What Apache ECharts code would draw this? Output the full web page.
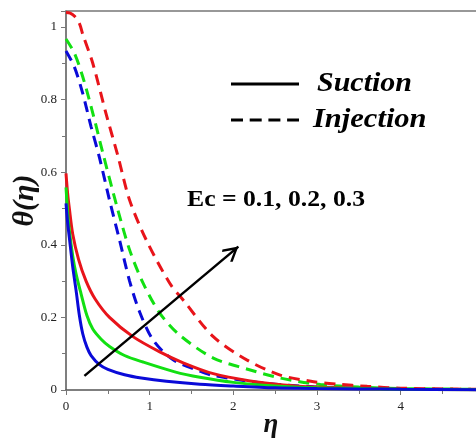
<!DOCTYPE html>
<html>
<head>
<meta charset="utf-8">
<script src="https://cdn.jsdelivr.net/npm/echarts@6/dist/echarts.min.js"></script>
<style>html,body{margin:0;padding:0;background:#fff}#c{width:476px;height:439px}</style>
</head>
<body>
<div id="c"></div>
<script>
// ---- data ----
var xTicks = [0, 1, 2, 3, 4];
var yTicks = [0, 0.2, 0.4, 0.6, 0.8, 1];

// Suction (solid)
var sucBlueX  = [0, 0.02, 0.04, 0.08, 0.12, 0.16, 0.2, 0.25, 0.3, 0.4, 0.5, 0.7, 0.9, 1.2, 1.6, 2, 2.5, 3, 3.5, 4, 4.9];
var sucBlueY  = [0.514, 0.46, 0.42, 0.34, 0.275, 0.205, 0.155, 0.118, 0.095, 0.07, 0.057, 0.042, 0.033, 0.024, 0.016, 0.011, 0.006, 0.004, 0.003, 0.002, 0.001];
var sucGreenX = [0, 0.02, 0.04, 0.08, 0.12, 0.18, 0.25, 0.32, 0.42, 0.52, 0.7, 0.92, 1.3, 1.6, 2, 2.5, 3, 3.5, 4, 4.9];
var sucGreenY = [0.558, 0.49, 0.44, 0.37, 0.32, 0.265, 0.205, 0.168, 0.14, 0.12, 0.095, 0.077, 0.05, 0.035, 0.021, 0.011, 0.006, 0.004, 0.002, 0.001];
var sucRedX   = [0, 0.02, 0.04, 0.08, 0.15, 0.24, 0.35, 0.52, 0.8, 1.12, 1.4, 1.76, 2.2, 2.6, 3, 3.5, 4, 4.9];
var sucRedY   = [0.597, 0.54, 0.50, 0.43, 0.36, 0.30, 0.25, 0.20, 0.147, 0.105, 0.075, 0.045, 0.025, 0.014, 0.008, 0.004, 0.002, 0.001];

// Injection (dashed)
var injBlueX  = [0, 0.1, 0.2, 0.3, 0.4, 0.52, 0.64, 0.76, 0.88, 1.04, 1.28, 1.6, 1.76, 2.36, 2.96, 3.5, 4, 4.9];
var injBlueY  = [0.934, 0.89, 0.817, 0.725, 0.64, 0.523, 0.413, 0.30, 0.215, 0.138, 0.083, 0.052, 0.04, 0.019, 0.009, 0.005, 0.003, 0.001];
var injGreenX = [0, 0.1, 0.2, 0.32, 0.44, 0.62, 0.76, 0.92, 1.12, 1.36, 1.76, 2.16, 2.56, 3.04, 3.5, 4, 4.9];
var injGreenY = [0.967, 0.928, 0.863, 0.763, 0.653, 0.496, 0.386, 0.295, 0.212, 0.151, 0.088, 0.058, 0.033, 0.015, 0.008, 0.004, 0.002];
var injRedX   = [0, 0.05, 0.1, 0.16, 0.2, 0.32, 0.48, 0.62, 0.76, 0.96, 1.24, 1.4, 1.76, 2.16, 2.56, 2.96, 3.24, 3.6, 4, 4.5, 4.9];
var injRedY   = [1.04, 1.038, 1.03, 1.01, 0.98, 0.90, 0.76, 0.645, 0.523, 0.413, 0.294, 0.248, 0.147, 0.083, 0.041, 0.023, 0.016, 0.01, 0.005, 0.003, 0.002];

// annotation arrow (data coords)
var arrowFrom = [0.22, 0.039];
var arrowTo   = [2.06, 0.395];

var colors = { blue: '#0a0ad8', green: '#12e012', red: '#e8141a' };

function pairs(xs, ys) { return xs.map(function (x, i) { return [x, ys[i]]; }); }
function mk(name, xs, ys, color, dashed) {
  return {
    name: name, type: 'line', data: pairs(xs, ys), showSymbol: false, symbol: 'none',
    smooth: 0.3, silent: true, z: dashed ? 2 : 3,
    lineStyle: { color: color, width: 3, type: dashed ? [11, 7] : 'solid' }
  };
}

var serif = '"Liberation Serif", "Times New Roman", serif';
var chart = echarts.init(document.getElementById('c'), null, { renderer: 'canvas' });
chart.setOption({
  backgroundColor: '#fff',
  animation: false,
  grid: { left: 66, right: 0, top: 11, bottom: 49, containLabel: false, outerBoundsMode: 'none' },
  xAxis: [{
    type: 'value', min: 0, max: 4.9, interval: 1,
    name: 'η', nameLocation: 'middle', nameGap: 22, nameMoveOverlap: false,
    nameTextStyle: { fontFamily: serif, fontSize: 27, fontWeight: 'bold', fontStyle: 'italic', color: '#111' },
    axisLine: { show: true, onZero: false, lineStyle: { color: '#555', width: 1.5 } },
    axisTick: { show: true, length: 5, inside: false, lineStyle: { color: '#777' } },
    minorTick: { show: true, splitNumber: 2, length: 4, lineStyle: { color: '#777' } },
    axisLabel: { fontFamily: serif, fontSize: 13, color: '#222', margin: 10, showMaxLabel: false,
      formatter: function (v) { return xTicks.indexOf(v) >= 0 ? String(v) : ''; } },
    splitLine: { show: false }
  }, {
    type: 'value', position: 'top', min: 0, max: 4.9,
    axisLine: { show: true, onZero: false, lineStyle: { color: '#777', width: 1.5 } },
    axisTick: { show: false }, axisLabel: { show: false }, splitLine: { show: false }
  }],
  yAxis: {
    type: 'value', min: 0, max: 1.044, interval: 0.2,
    name: 'θ(η)', nameLocation: 'middle', nameGap: 26, nameRotate: 90, nameMoveOverlap: false,
    nameTextStyle: { fontFamily: serif, fontSize: 30, fontStyle: 'italic', fontWeight: 'bold', color: '#111' },
    axisLine: { show: true, onZero: false, lineStyle: { color: '#555', width: 1.5 } },
    axisTick: { show: true, length: 5, lineStyle: { color: '#777' } },
    minorTick: { show: true, splitNumber: 2, length: 4, lineStyle: { color: '#777' } },
    axisLabel: { fontFamily: serif, fontSize: 13, color: '#222', margin: 9, showMaxLabel: false,
      formatter: function (v) {
        for (var i = 0; i < yTicks.length; i++) if (Math.abs(yTicks[i] - v) < 1e-9) return String(yTicks[i]);
        return '';
      } },
    splitLine: { show: false }
  },
  series: [
    mk('injBlue', injBlueX, injBlueY, colors.blue, true),
    mk('injGreen', injGreenX, injGreenY, colors.green, true),
    mk('injRed', injRedX, injRedY, colors.red, true),
    mk('sucRed', sucRedX, sucRedY, colors.red, false),
    mk('sucGreen', sucGreenX, sucGreenY, colors.green, false),
    mk('sucBlue', sucBlueX, sucBlueY, colors.blue, false),
    {
      type: 'line', data: [], silent: true, z: 5,
      markLine: {
        silent: true, animation: false,
        symbol: ['none', 'path://M0,0 L11,12 L8.6,13.6 L0,4.2 L-8.6,13.6 L-11,12 Z'],
        symbolSize: [16, 16],
        symbolOffset: [0, [0, 8]],
        label: { show: false },
        lineStyle: { color: '#000', width: 2.5, type: 'solid' },
        data: [[{ coord: arrowFrom }, { coord: arrowTo }]]
      }
    }
  ],
  graphic: [
    { type: 'line', shape: { x1: 231, y1: 84, x2: 299, y2: 84 }, style: { stroke: '#000', lineWidth: 3 } },
    { type: 'line', shape: { x1: 231, y1: 120, x2: 299, y2: 120 }, style: { stroke: '#000', lineWidth: 3, lineDash: [12, 6.7] } },
    { type: 'text', x: 317, y: 84, scaleX: 1.11, style: { text: 'Suction', font: 'italic bold 27px ' + serif, fill: '#000', textVerticalAlign: 'middle' } },
    { type: 'text', x: 313, y: 120, scaleX: 1.13, style: { text: 'Injection', font: 'italic bold 27px ' + serif, fill: '#000', textVerticalAlign: 'middle' } },
    { type: 'text', x: 187, y: 200, scaleX: 1.07, style: { text: 'Ec = 0.1, 0.2, 0.3', font: 'bold 24px ' + serif, fill: '#000', textVerticalAlign: 'middle' } }
  ]
});
</script>
</body>
</html>
